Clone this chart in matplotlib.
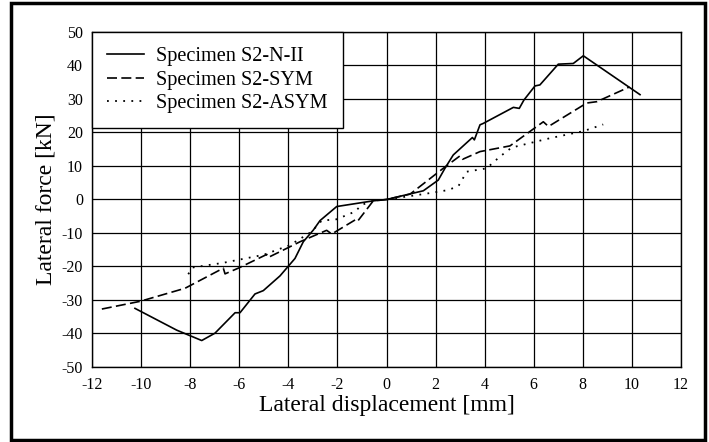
import matplotlib
matplotlib.use('Agg')
import matplotlib.pyplot as plt
from matplotlib.patches import Rectangle

plt.rcParams['font.family'] = ['Liberation Serif', 'DejaVu Serif']
plt.rcParams['axes.unicode_minus'] = False

# Specimen S2-N-II
x_n2 = [-10.25, -8.55, -7.53, -6.99, -6.17, -5.97, -5.36, -5.02, -4.34, -4.07, -3.73, -3.39,
        -2.98, -2.71, -2.03, -0.54, 0.0, 0.89, 1.5, 2.11, 2.38, 2.72, 3.5, 3.58, 3.81, 3.94,
        5.17, 5.41, 5.6, 6.05, 6.25, 7.0, 7.61, 8.02, 10.33]
y_n2 = [-32.5, -39.0, -42.1, -39.9, -33.8, -33.8, -28.2, -27.2, -22.8, -20.5, -17.6, -12.6,
        -9.1, -6.3, -2.1, -0.4, 0.0, 1.55, 2.6, 5.8, 9.3, 13.3, 18.5, 17.8, 22.3, 22.7,
        27.5, 27.2, 29.7, 33.9, 34.2, 40.4, 40.6, 42.9, 31.3]

# Specimen S2-SYM
x_sym = [-11.6, -10.04, -8.21, -6.65, -6.58, -6.04, -4.88, -4.82, -4.07, -3.52, -2.44, -2.23,
         -1.28, -1.19, -0.54, 0.0, 0.96, 2.31, 2.99, 3.1, 3.81, 5.03, 6.39, 6.6, 8.16, 8.57, 9.9]
y_sym = [-32.7, -30.4, -26.5, -20.5, -22.2, -20.5, -16.4, -17.3, -14.6, -12.6, -9.2, -10.3,
         -6.1, -6.6, -0.4, 0.0, 1.6, 9.3, 13.0, 12.0, 14.3, 16.0, 23.2, 21.8, 28.8, 29.2, 33.6]

# Specimen S2-ASYM
x_asym = [-8.08, -7.9, -6.65, -5.0, -3.93, -3.05, -2.64, -2.03, -1.28, -1.01, -0.54, 0.0,
          1.5, 2.5, 2.93, 3.27, 4.08, 4.62, 5.1, 6.66, 8.02, 8.83]
y_asym = [-22.3, -20.3, -18.9, -16.5, -13.6, -9.6, -6.3, -5.9, -3.6, -1.6, -0.4, 0.0,
          1.6, 2.8, 4.0, 8.3, 9.3, 12.8, 15.5, 18.3, 20.4, 22.4]

fig = plt.figure(figsize=(7.09, 4.42), dpi=100)
ax = fig.add_axes([0.1298, 0.1697, 0.8307, 0.7579])

ax.plot(x_n2, y_n2, color='black', lw=1.2, ls='-', label='Specimen S2-N-II')
ax.plot(x_sym, y_sym, color='black', lw=1.2, ls=(0, (6, 2.6)), label='Specimen S2-SYM')
ax.plot(x_asym, y_asym, color='black', lw=1.3, ls=(0, (1, 3.5)), label='Specimen S2-ASYM')

ax.set_xlim(-12, 12)
ax.set_ylim(-50, 50)
ax.set_xticks(range(-12, 13, 2))
ax.set_yticks(range(-50, 51, 10))
ax.grid(True, color='black', lw=0.9)
ax.tick_params(length=0, labelsize=11.5)
ax.tick_params(axis='x', pad=7.5)
ax.tick_params(axis='y', pad=6.5)
for s in ax.spines.values():
    s.set_color('black')
    s.set_linewidth(1.0)

ax.set_xlabel('Lateral displacement [mm]', fontsize=17, labelpad=1)
ax.set_ylabel('Lateral force [kN]', fontsize=17, labelpad=3.5)

leg = ax.legend(loc='upper left', bbox_to_anchor=(0, 1), borderaxespad=0, fancybox=False,
                edgecolor='black', framealpha=1, fontsize=14.6, handlelength=1.8,
                borderpad=0.75, labelspacing=0.2, handletextpad=0.6)
leg.get_frame().set_linewidth(1.0)

fig.patches.append(Rectangle((0.016, 0.004), 0.978, 0.989, transform=fig.transFigure,
                             fill=False, edgecolor='black', lw=2.5))

fig.savefig('out.png', dpi=100)
